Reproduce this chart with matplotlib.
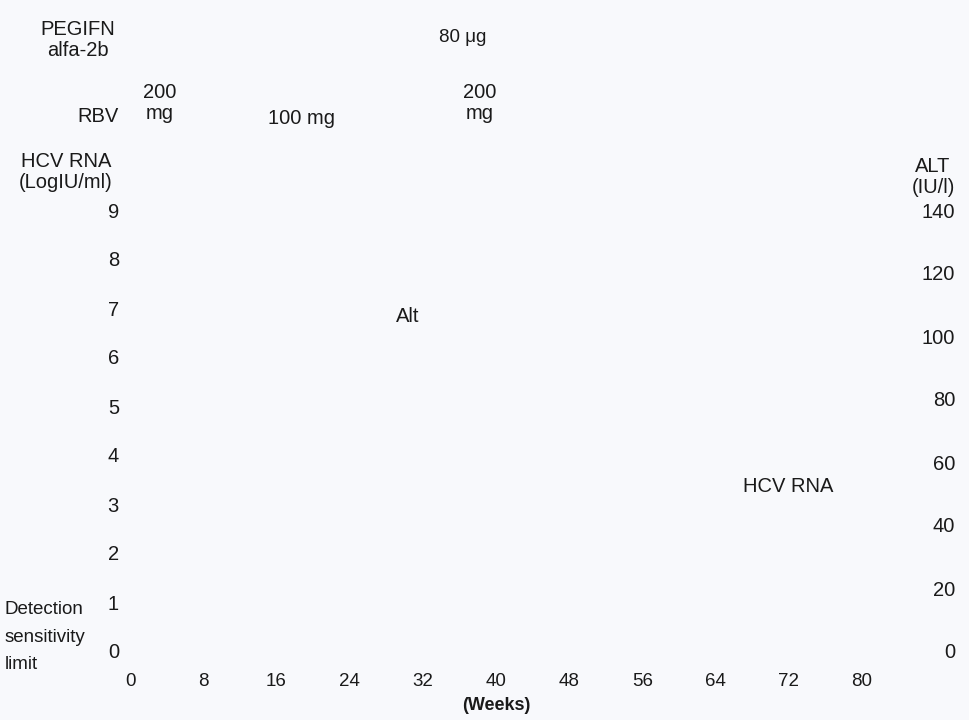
import matplotlib.pyplot as plt

plt.rcParams['font.family'] = ['Liberation Sans', 'DejaVu Sans']

weeks = [0, 8, 16, 24, 32, 40, 48, 56, 64, 72, 80]
hcv_ticks = [0, 1, 2, 3, 4, 5, 6, 7, 8, 9]
alt_ticks = [0, 20, 40, 60, 80, 100, 120, 140]

bg = '#f8f9fc'
ink = '#1a1a1a'
fs = 14.5

fig = plt.figure(figsize=(9.69, 7.2), dpi=100, facecolor=bg)
ax = fig.add_axes([130 / 969, 69 / 720, 732 / 969, 441 / 720])
ax.set_facecolor(bg)
ax.set_xlim(0, 80)
ax.set_ylim(0, 9)
ax.set_xticks(weeks)
ax.set_xticklabels([str(w) for w in weeks], fontsize=13.5)
ax.set_yticks(hcv_ticks)
ax.set_yticklabels([str(v) for v in hcv_ticks], fontsize=fs)
ax.tick_params(axis='x', length=0, pad=16, colors=ink)
ax.tick_params(axis='y', length=0, pad=8, colors=ink)
for s in ax.spines.values():
    s.set_visible(False)

ax2 = ax.twinx()
ax2.set_ylim(0, 140)
ax2.set_yticks(alt_ticks)
ax2.set_yticklabels([str(v) for v in alt_ticks], ha='right', fontsize=fs)
ax2.tick_params(axis='y', length=0, pad=67, colors=ink)
for s in ax2.spines.values():
    s.set_visible(False)

def t(x, y, s, size=fs, ls=1.15, **kw):
    fig.text(x / 969, 1 - y / 720, s, fontsize=size, color=ink,
             va='center', linespacing=ls, **kw)

t(78, 40, 'PEGIFN\nalfa-2b', ha='center')
t(463, 38, '80 \u03bcg', ha='center', size=13.5)
t(160, 103, '200\nmg', ha='center')
t(98, 117, 'RBV', ha='center')
t(301, 118, '100 mg', ha='center')
t(480, 103, '200\nmg', ha='center')
t(66, 172, 'HCV RNA\n(LogIU/ml)', ha='center')
t(933, 177, 'ALT\n(IU/l)', ha='center')
t(408, 316, 'Alt', ha='center')
t(788, 486, 'HCV RNA', ha='center')
t(5, 637, 'Detection\nsensitivity\nlimit', ha='left', size=13.5, ls=1.8)
t(496, 706, '(Weeks)', ha='center', fontweight='bold', size=13)

fig.savefig('out.png', dpi=100, facecolor=bg)
